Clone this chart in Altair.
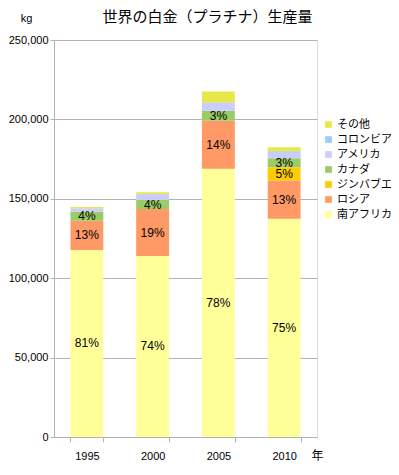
import altair as alt
import pandas as pd

years = ["1995", "2000", "2005", "2010"]
series = ["南アフリカ", "ロシア", "ジンバブエ", "カナダ", "アメリカ", "コロンビア", "その他"]
colors = ["#FFFF99", "#FF9966", "#FFCC00", "#99CC66", "#CCCCFF", "#99CCFF", "#E8E84A"]
values = {
    "南アフリカ": [117800, 114000, 169000, 137500],
    "ロシア":     [18300, 29500, 30200, 24000],
    "ジンバブエ": [0, 0, 0, 8400],
    "カナダ":     [5700, 5800, 6300, 5600],
    "アメリカ":   [1700, 3400, 4800, 3500],
    "コロンビア": [400, 300, 300, 1000],
    "その他":     [900, 1200, 7000, 2500],
}
labelled = ["南アフリカ", "ロシア", "ジンバブエ", "カナダ"]

rows = []
for i, y in enumerate(years):
    total = sum(values[s][i] for s in series)
    for k, s in enumerate(series):
        v = values[s][i]
        pct = round(v / total * 100)
        rows.append({
            "year": y, "series": s, "value": v, "order": k,
            "label": f"{pct}%" if (s in labelled and v > 0) else "",
        })
df = pd.DataFrame(rows)

font = "Liberation Sans"
jfont = "Noto Sans CJK JP"

base = alt.Chart(df)

bars = base.mark_bar(stroke=None).encode(
    x=alt.X("year:N", sort=years,
            scale=alt.Scale(paddingInner=0.5, paddingOuter=0.25),
            axis=alt.Axis(title="年", titleX=263, titleY=18, titleAlign="center",
                          titleBaseline="middle", titleFont=jfont, titleFontSize=12,
                          titleFontWeight="normal",
                          labelAngle=0, tickBand="extent", labelPadding=8,
                          labelFont=font, labelFontSize=11, labelColor="#000",
                          domainColor="#b3b3b3", tickColor="#b3b3b3", tickSize=5)),
    y=alt.Y("value:Q", stack="zero",
            scale=alt.Scale(domain=[0, 250000], nice=False),
            axis=alt.Axis(title="kg", titleAngle=0, titleX=-28, titleY=-22,
                          titleAlign="center", titleBaseline="middle",
                          titleFont=font, titleFontSize=11, titleFontWeight="normal",
                          values=[0, 50000, 100000, 150000, 200000, 250000],
                          format=",d", labelFont=font, labelFontSize=11,
                          labelColor="#000", labelPadding=2,
                          domainColor="#b3b3b3", tickColor="#b3b3b3", tickSize=4,
                          gridColor="#b3b3b3")),
    color=alt.Color("series:N",
                    scale=alt.Scale(domain=series[::-1], range=colors[::-1]),
                    legend=alt.Legend(title=None, orient="none", legendX=269, legendY=79,
                                      symbolType="square", symbolSize=45,
                                      symbolStrokeWidth=0, labelFont=jfont,
                                      labelFontSize=11, rowPadding=3, labelOffset=3,
                                      labelLimit=200)),
    order=alt.Order("order:Q", sort="ascending"),
)

text = base.transform_stack(
    stack="value", groupby=["year"], as_=["v0", "v1"],
    sort=[alt.SortField("order", order="ascending")]
).transform_calculate(
    mid="(datum.v0 + datum.v1) / 2"
).transform_filter(
    "datum.label != ''"
).mark_text(font=font, fontSize=12, color="#000").encode(
    x=alt.X("year:N", sort=years),
    y=alt.Y("mid:Q"),
    text="label:N",
)

chart = alt.layer(bars, text).properties(
    width=263, height=397,
    title=alt.TitleParams("世界の白金（プラチナ）生産量", font=jfont, fontSize=15,
                          fontWeight="normal", anchor="middle", dx=22, dy=20,
                          frame="group", baseline="middle", offset=0),
    autosize=alt.AutoSizeParams(type="none"),
    padding={"left": 46, "top": 32, "right": 74, "bottom": 30},
).configure_view(stroke="#b3b3b3").configure(background="white")

chart.save("out.html", embed_options={"renderer": "svg", "actions": False})
